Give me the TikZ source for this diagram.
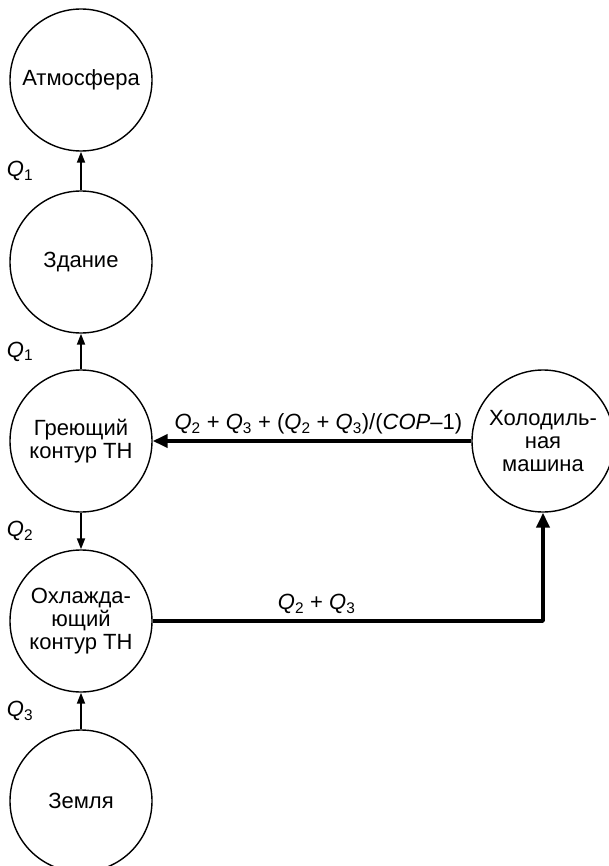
\documentclass[tikz,border=0pt]{standalone}
\usepackage{fontspec}
\setmainfont{Liberation Sans}
\usetikzlibrary{arrows.meta}
\newcommand*{\Qn}[1]{\textit{Q}\textsubscript{#1}}

\begin{document}
\begin{tikzpicture}[x=1pt, y=-1pt, font=\fontsize{22}{23}\selectfont, line join=round,
	>={Triangle[length=11pt,width=8pt]},
	vong/.style={draw, circle, line width=1.4pt, minimum size=142pt, inner sep=0pt, align=center},
	mui/.style={->, line width=1.8pt},
	muiday/.style={-{Triangle[length=15pt,width=13pt]}, line width=3.8pt},
	qlab/.style={left, inner sep=0pt, xshift=-47pt}]
	\clip (0,0) rectangle (609,866); % page frame
	\foreach \y/\ten/\chu in {80/atm/Атмосфера, 262/zd/Здание, 441/gr/{Греющий\\контур ТН},
		621/ox/{Охлажда-\\ющий\\контур ТН}, 801/zem/Земля}
	\node[vong] (\ten) at (81,\y) {\chu}; % left column
	\node[vong] (hol) at (543,441) {Холодиль-\\ная\\машина};
	\foreach \a/\b/\q in {zd/atm/1, gr/zd/1, gr/ox/2, zem/ox/3}
	\draw[mui] (\a) -- node[qlab] (q-\a-\b) {\Qn{\q}} (\b); % heat flows
	\draw[muiday] (hol) -- node[above, pos=.48, inner sep=5pt] (lbcop)
		{\Qn{2} + \Qn{3} + (\Qn{2} + \Qn{3})/(\textit{COP}–1)} (gr);
	\draw[muiday] (ox) -| node[above, pos=.21, inner sep=5pt] (lbq) {\Qn{2} + \Qn{3}} (hol);
\end{tikzpicture}
\end{document}
